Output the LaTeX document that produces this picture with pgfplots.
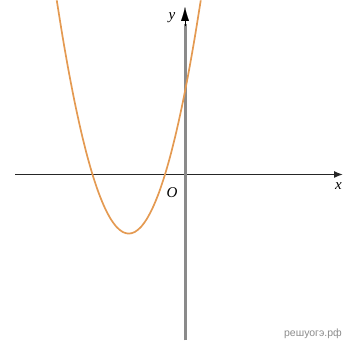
\documentclass[border=0pt]{standalone}
\usepackage{fontspec}
\setmainfont{Liberation Serif}
\newfontfamily\wm{Liberation Sans}
\usepackage{pgfplots}
\pgfplotsset{compat=1.18}
\usetikzlibrary{arrows.meta}
\definecolor{curve}{HTML}{E49A52}
\definecolor{yax}{HTML}{8A8A8A}
\begin{document}
\begin{tikzpicture}
\begin{axis}[
  scale only axis, width=343pt, height=347pt,
  xmin=-185, xmax=158, ymin=-172.5, ymax=174.5,
  hide axis, clip=true,
]
\path[use as bounding box] (rel axis cs:0,0) rectangle (rel axis cs:1,1);
\draw[black!85, line width=1.3pt, -{Latex[length=9pt,width=7pt]}] (axis cs:-170,0) -- (axis cs:158,0);
\draw[yax, line width=3pt] (axis cs:0,-166) -- (axis cs:0,150);
\draw[black, line width=0.1pt, -{Latex[length=14pt,width=8pt]}] (axis cs:0,148) -- (axis cs:0,167.5);
\addplot[curve, line width=1.7pt, smooth] coordinates {
(-128.25,174.15) (-122.25,136.89) (-116.25,102.87) (-110.25,72.09)
(-104.25,44.55) (-98.25,20.25) (-92.25,-0.81) (-86.25,-18.63)
(-80.25,-33.21) (-74.25,-44.55) (-68.25,-52.65) (-62.25,-57.51)
(-56.25,-59.13) (-50.25,-57.51) (-44.25,-52.65) (-38.25,-44.55)
(-32.25,-33.21) (-26.25,-18.63) (-20.25,-0.81) (-14.25,20.25)
(-8.25,44.55) (-2.25,72.09) (3.75,102.87) (9.75,136.89) (15.75,174.15)
};
\node[font=\fontsize{15}{15}\selectfont\itshape] at (axis cs:-13,157) {y};
\node[font=\fontsize{15}{15}\selectfont\itshape] at (axis cs:-13,-18) {O};
\node[font=\fontsize{15}{15}\selectfont\itshape, anchor=east, inner sep=1pt] at (axis cs:158,-12) {x};
\node[font=\fontsize{10.5}{10.5}\selectfont\wm, text=black!45, anchor=east, inner sep=1pt] at (axis cs:158,-159) {решуогэ.рф};
\end{axis}
\end{tikzpicture}
\end{document}
